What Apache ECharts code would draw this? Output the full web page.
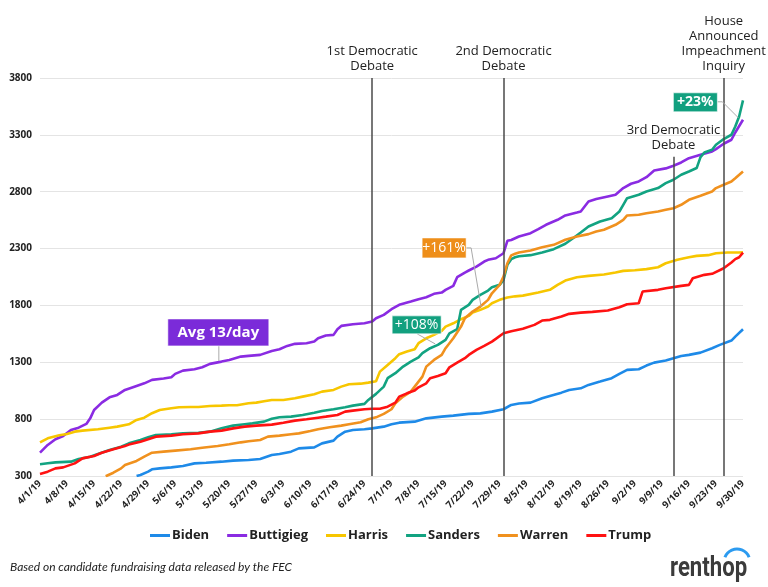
<!DOCTYPE html>
<html><head><meta charset="utf-8">
<script src="https://cdn.jsdelivr.net/npm/echarts@6/dist/echarts.min.js"></script>
<style>html,body{margin:0;padding:0;background:#fff}#c{width:768px;height:587px}</style>
</head><body><div id="c"></div>
<script>
// x = days since 4/1/2019
const startYear = 2019, startMonth = 3, startDay = 1;
const xMax = 182, xStep = 7;
const yMin = 300, yMax = 3800, yStep = 500;

const seriesNames = ['Biden','Buttigieg','Harris','Sanders','Warren','Trump'];
const seriesColors = ['#1e8ae8','#8a2be2','#f7c600','#12a381','#f0911e','#ff1212'];

const bidenDay = [25,26,28,29,31,34,37,40,43,47,50,54,57,60,62,65,67,71,73,76,77,79,81,84,86,89,91,93,97,100,104,107,111,114,117,120,122,124,127,130,132,135,137,140,142,145,148,150,152,155,157,159,162,164,166,168,171,174,176,179,180,182];
const bidenVal = [299,309,338,359,367,376,388,411,417,426,435,441,450,485,494,514,543,552,587,611,646,690,705,711,719,734,755,769,778,807,822,831,846,851,866,887,925,937,945,983,1004,1033,1057,1071,1101,1130,1160,1198,1233,1239,1271,1297,1315,1336,1356,1365,1385,1424,1453,1491,1526,1591];

const buttigiegDay = [0,2,4,6,8,10,12,13,14,16,18,20,22,25,27,29,32,34,35,37,40,42,44,47,49,52,54,57,60,62,64,66,69,71,72,74,76,77,78,81,84,86,87,89,91,93,96,98,100,102,104,105,107,108,110,111,113,115,116,118,120,121,122,124,127,129,131,134,136,139,140,142,144,147,149,151,153,155,157,159,162,164,166,168,171,174,175,177,179,180,182];
const buttigiegVal = [505,573,623,652,705,725,758,807,881,945,992,1013,1057,1092,1115,1145,1157,1168,1198,1227,1239,1256,1286,1306,1321,1350,1356,1365,1400,1415,1444,1462,1468,1482,1511,1535,1541,1591,1620,1635,1643,1658,1687,1717,1767,1805,1834,1855,1872,1902,1913,1937,1972,2048,2089,2107,2142,2186,2201,2215,2259,2368,2375,2406,2435,2471,2509,2553,2591,2617,2626,2714,2735,2758,2773,2832,2870,2890,2928,2987,3005,3028,3057,3095,3125,3154,3175,3222,3257,3321,3433];

const harrisDay = [0,2,5,7,9,11,15,18,20,23,25,27,29,31,34,36,39,41,44,47,49,51,54,56,58,60,63,66,68,71,73,76,78,80,83,85,87,88,90,92,93,95,97,98,100,102,104,105,107,109,111,112,114,116,117,119,121,123,125,129,132,134,136,139,142,146,149,151,154,157,160,162,165,168,170,173,175,178,181,182];
const harrisVal = [596,631,658,670,690,699,711,725,734,755,793,813,852,881,896,904,907,907,916,919,922,922,940,945,957,969,969,983,998,1019,1042,1057,1086,1107,1112,1121,1133,1218,1277,1336,1371,1394,1415,1468,1511,1541,1576,1614,1643,1679,1708,1737,1761,1790,1819,1849,1870,1880,1886,1913,1937,1981,2019,2048,2060,2072,2089,2104,2110,2119,2136,2171,2201,2224,2236,2242,2259,2265,2265,2268];

const sandersDay = [0,2,4,8,10,13,15,18,21,23,26,28,30,34,37,41,44,47,50,53,55,58,60,62,65,68,71,73,76,79,81,84,85,87,89,90,92,94,96,98,99,101,103,105,106,108,109,111,112,114,116,117,119,120,121,122,123,124,127,130,133,136,138,140,142,145,148,150,151,152,155,157,160,162,164,166,168,170,171,172,174,175,177,179,180,181,182];
const sandersVal = [403,412,420,426,450,470,494,529,558,587,617,640,661,667,675,681,690,719,743,755,763,778,803,816,822,837,857,872,887,904,919,934,969,1022,1086,1160,1204,1262,1306,1344,1380,1424,1453,1497,1555,1591,1761,1805,1849,1893,1931,1960,1981,2025,2157,2207,2224,2233,2242,2265,2295,2342,2391,2441,2494,2538,2567,2626,2685,2743,2773,2802,2832,2875,2905,2949,2978,3008,3104,3145,3169,3213,3263,3301,3374,3462,3603];

const warrenDay = [17,19,21,22,25,27,29,32,35,39,42,46,49,52,54,57,59,62,65,67,70,72,75,78,80,83,85,87,89,91,92,94,96,97,99,100,102,104,105,107,109,110,112,114,116,117,119,120,121,122,123,124,127,130,133,136,139,142,144,146,149,151,152,155,157,160,162,164,166,168,171,174,175,177,179,180,182];
const warrenVal = [298,329,367,397,432,470,505,514,523,535,549,564,579,596,605,617,646,655,667,675,696,711,728,743,755,772,799,816,846,887,940,998,1042,1086,1174,1262,1321,1365,1424,1511,1614,1687,1746,1790,1849,1907,1981,2054,2171,2240,2254,2265,2283,2312,2333,2377,2406,2427,2450,2465,2509,2553,2591,2597,2611,2626,2641,2655,2685,2729,2764,2802,2832,2861,2890,2919,2978];

const trumpDay = [0,2,4,6,9,11,14,16,19,22,23,26,28,30,34,37,41,44,47,50,53,56,60,63,66,69,72,74,77,79,81,84,86,88,90,92,93,95,97,98,100,101,103,105,106,108,110,111,113,115,117,118,120,122,125,128,130,132,135,137,140,143,147,150,152,155,156,160,162,166,168,169,172,174,177,179,180,181,182];
const trumpVal = [318,338,367,376,411,455,476,505,535,564,576,602,623,646,655,667,675,690,699,719,734,743,752,769,787,799,813,822,837,866,875,887,892,892,910,945,998,1027,1051,1080,1115,1160,1180,1203,1256,1297,1336,1365,1409,1444,1482,1506,1555,1573,1595,1629,1667,1673,1702,1726,1737,1743,1755,1784,1811,1819,1922,1937,1951,1972,1981,2039,2069,2078,2127,2177,2207,2224,2265];

const eventDays = [86,120,164,177];
const eventTops = [3800,3800,3107,3800];
const eventLabels = ['1st Democratic\nDebate','2nd Democratic\nDebate','3rd Democratic\nDebate','House\nAnnounced\nImpeachment\nInquiry'];

// annotation anchors (day, value) on the series
const annoText = ['Avg 13/day','+108%','+161%','+23%'];
const annoAnchor = [[46.3,1312],[102.3,1462],[114.2,1787],[180.8,3450]];
const annoColor = ['#7b2bd9','#12a07f','#ee8e19','#12a07f'];

const dayArrays = [bidenDay,buttigiegDay,harrisDay,sandersDay,warrenDay,trumpDay];
const valArrays = [bidenVal,buttigiegVal,harrisVal,sandersVal,warrenVal,trumpVal];

const FONT = '"Open Sans", "DejaVu Sans", sans-serif';

function dayLabel(d){
  const dt = new Date(startYear, startMonth, startDay + d);
  return (dt.getMonth()+1) + '/' + dt.getDate() + '/19';
}

const chart = echarts.init(document.getElementById('c'));

const series = seriesNames.map((n,i)=>({
  name:n, type:'line', showSymbol:false, symbol:'none', clip:true,
  lineStyle:{width:2.6,color:seriesColors[i]}, itemStyle:{color:seriesColors[i]},
  data: dayArrays[i].map((d,j)=>[d, valArrays[i][j]]),
  z: 3
}));

series[0].markLine = {
  silent:true, symbol:['none','none'], animation:false,
  lineStyle:{color:'#4a4a4a',width:1.5,type:'solid'},
  label:{show:true, position:'start', distance:4, color:'#222', fontSize:13, lineHeight:15, fontFamily:FONT},
  data: eventDays.map((d,i)=>[
    {coord:[d,eventTops[i]], label:{formatter:eventLabels[i]}},
    {coord:[d,yMin]}
  ])
};

chart.setOption({
  animation:false,
  backgroundColor:'#fff',
  grid:{left:40,right:25,top:78,bottom:111,containLabel:false},
  xAxis:{
    type:'value', min:0, max:xMax, interval:xStep,
    axisLine:{show:false}, axisTick:{show:false}, splitLine:{show:false},
    axisLabel:{rotate:45, formatter:dayLabel, color:'#222', fontWeight:'bold', fontSize:9.5, fontFamily:FONT, margin:6}
  },
  yAxis:{
    type:'value', min:yMin, max:yMax, interval:yStep,
    axisLine:{show:false}, axisTick:{show:false},
    splitLine:{lineStyle:{color:'#e4e4e4',width:1}},
    axisLabel:{formatter:v=>String(v), color:'#222', fontWeight:'bold', fontSize:10, fontFamily:FONT, margin:8}
  },
  legend:{
    data:seriesNames, top:524, left:145, icon:'rect', itemWidth:20, itemHeight:3, itemGap:18,
    textStyle:{color:'#222', fontWeight:'bold', fontSize:13, fontFamily:FONT, padding:[0,0,0,-3]}
  },
  series: series
});

// annotations anchored through the chart scales
const boxes = [
  {x0:-51,x1:50,y0:-42,y1:-15, lead:[[0,-15],[0,0]], font:'bold 15px '+FONT},
  {x0:-43,x1:6,y0:-28,y1:-10, lead:[[-18,-10],[0,0]], font:'14px '+FONT},
  {x0:-59,x1:-15,y0:-69,y1:-49, lead:[[-15,-59],[-10,-59],[0,0]], font:'14px '+FONT},
  {x0:-65,x1:-21,y0:-25,y1:-6, lead:[[-21,-16],[-16,-16],[0,0]], font:'bold 14px '+FONT}
];
const g = [];
annoAnchor.forEach((a,i)=>{
  const p = chart.convertToPixel({gridIndex:0}, a);
  const b = boxes[i];
  g.push({type:'polyline', z:50, silent:true, shape:{points:b.lead.map(q=>[p[0]+q[0],p[1]+q[1]])}, style:{stroke:'#aaaaaa',lineWidth:1,fill:null}});
  g.push({type:'rect', z:51, silent:true, shape:{x:p[0]+b.x0,y:p[1]+b.y0,width:b.x1-b.x0,height:b.y1-b.y0}, style:{fill:annoColor[i], stroke:'rgba(255,255,255,0.6)', lineWidth:1}});
  g.push({type:'text', z:52, silent:true, style:{text:annoText[i], x:p[0]+(b.x0+b.x1)/2, y:p[1]+(b.y0+b.y1)/2, textAlign:'center', textVerticalAlign:'middle', align:'center', verticalAlign:'middle', fill:'#fff', font:b.font}});
});
// footer
g.push({type:'text', silent:true, style:{text:'Based on candidate fundraising data released by the FEC', x:10, y:567, textVerticalAlign:'middle', verticalAlign:'middle', fill:'#222', font:'italic 12px Lato, "Open Sans", sans-serif'}});
g.push({type:'text', silent:true, scaleX:0.82, x:670, y:569, style:{text:'renthop', x:0, y:0, textVerticalAlign:'middle', verticalAlign:'middle', fill:'#3b3b3b', font:'bold 27px Roboto, sans-serif'}});
g.push({type:'arc', silent:true, shape:{cx:737, cy:562, r:13, startAngle:Math.PI*1.12, endAngle:Math.PI*1.88}, style:{stroke:'#2c9bf0', lineWidth:3, fill:null}});
chart.setOption({graphic:g});
</script></body></html>
